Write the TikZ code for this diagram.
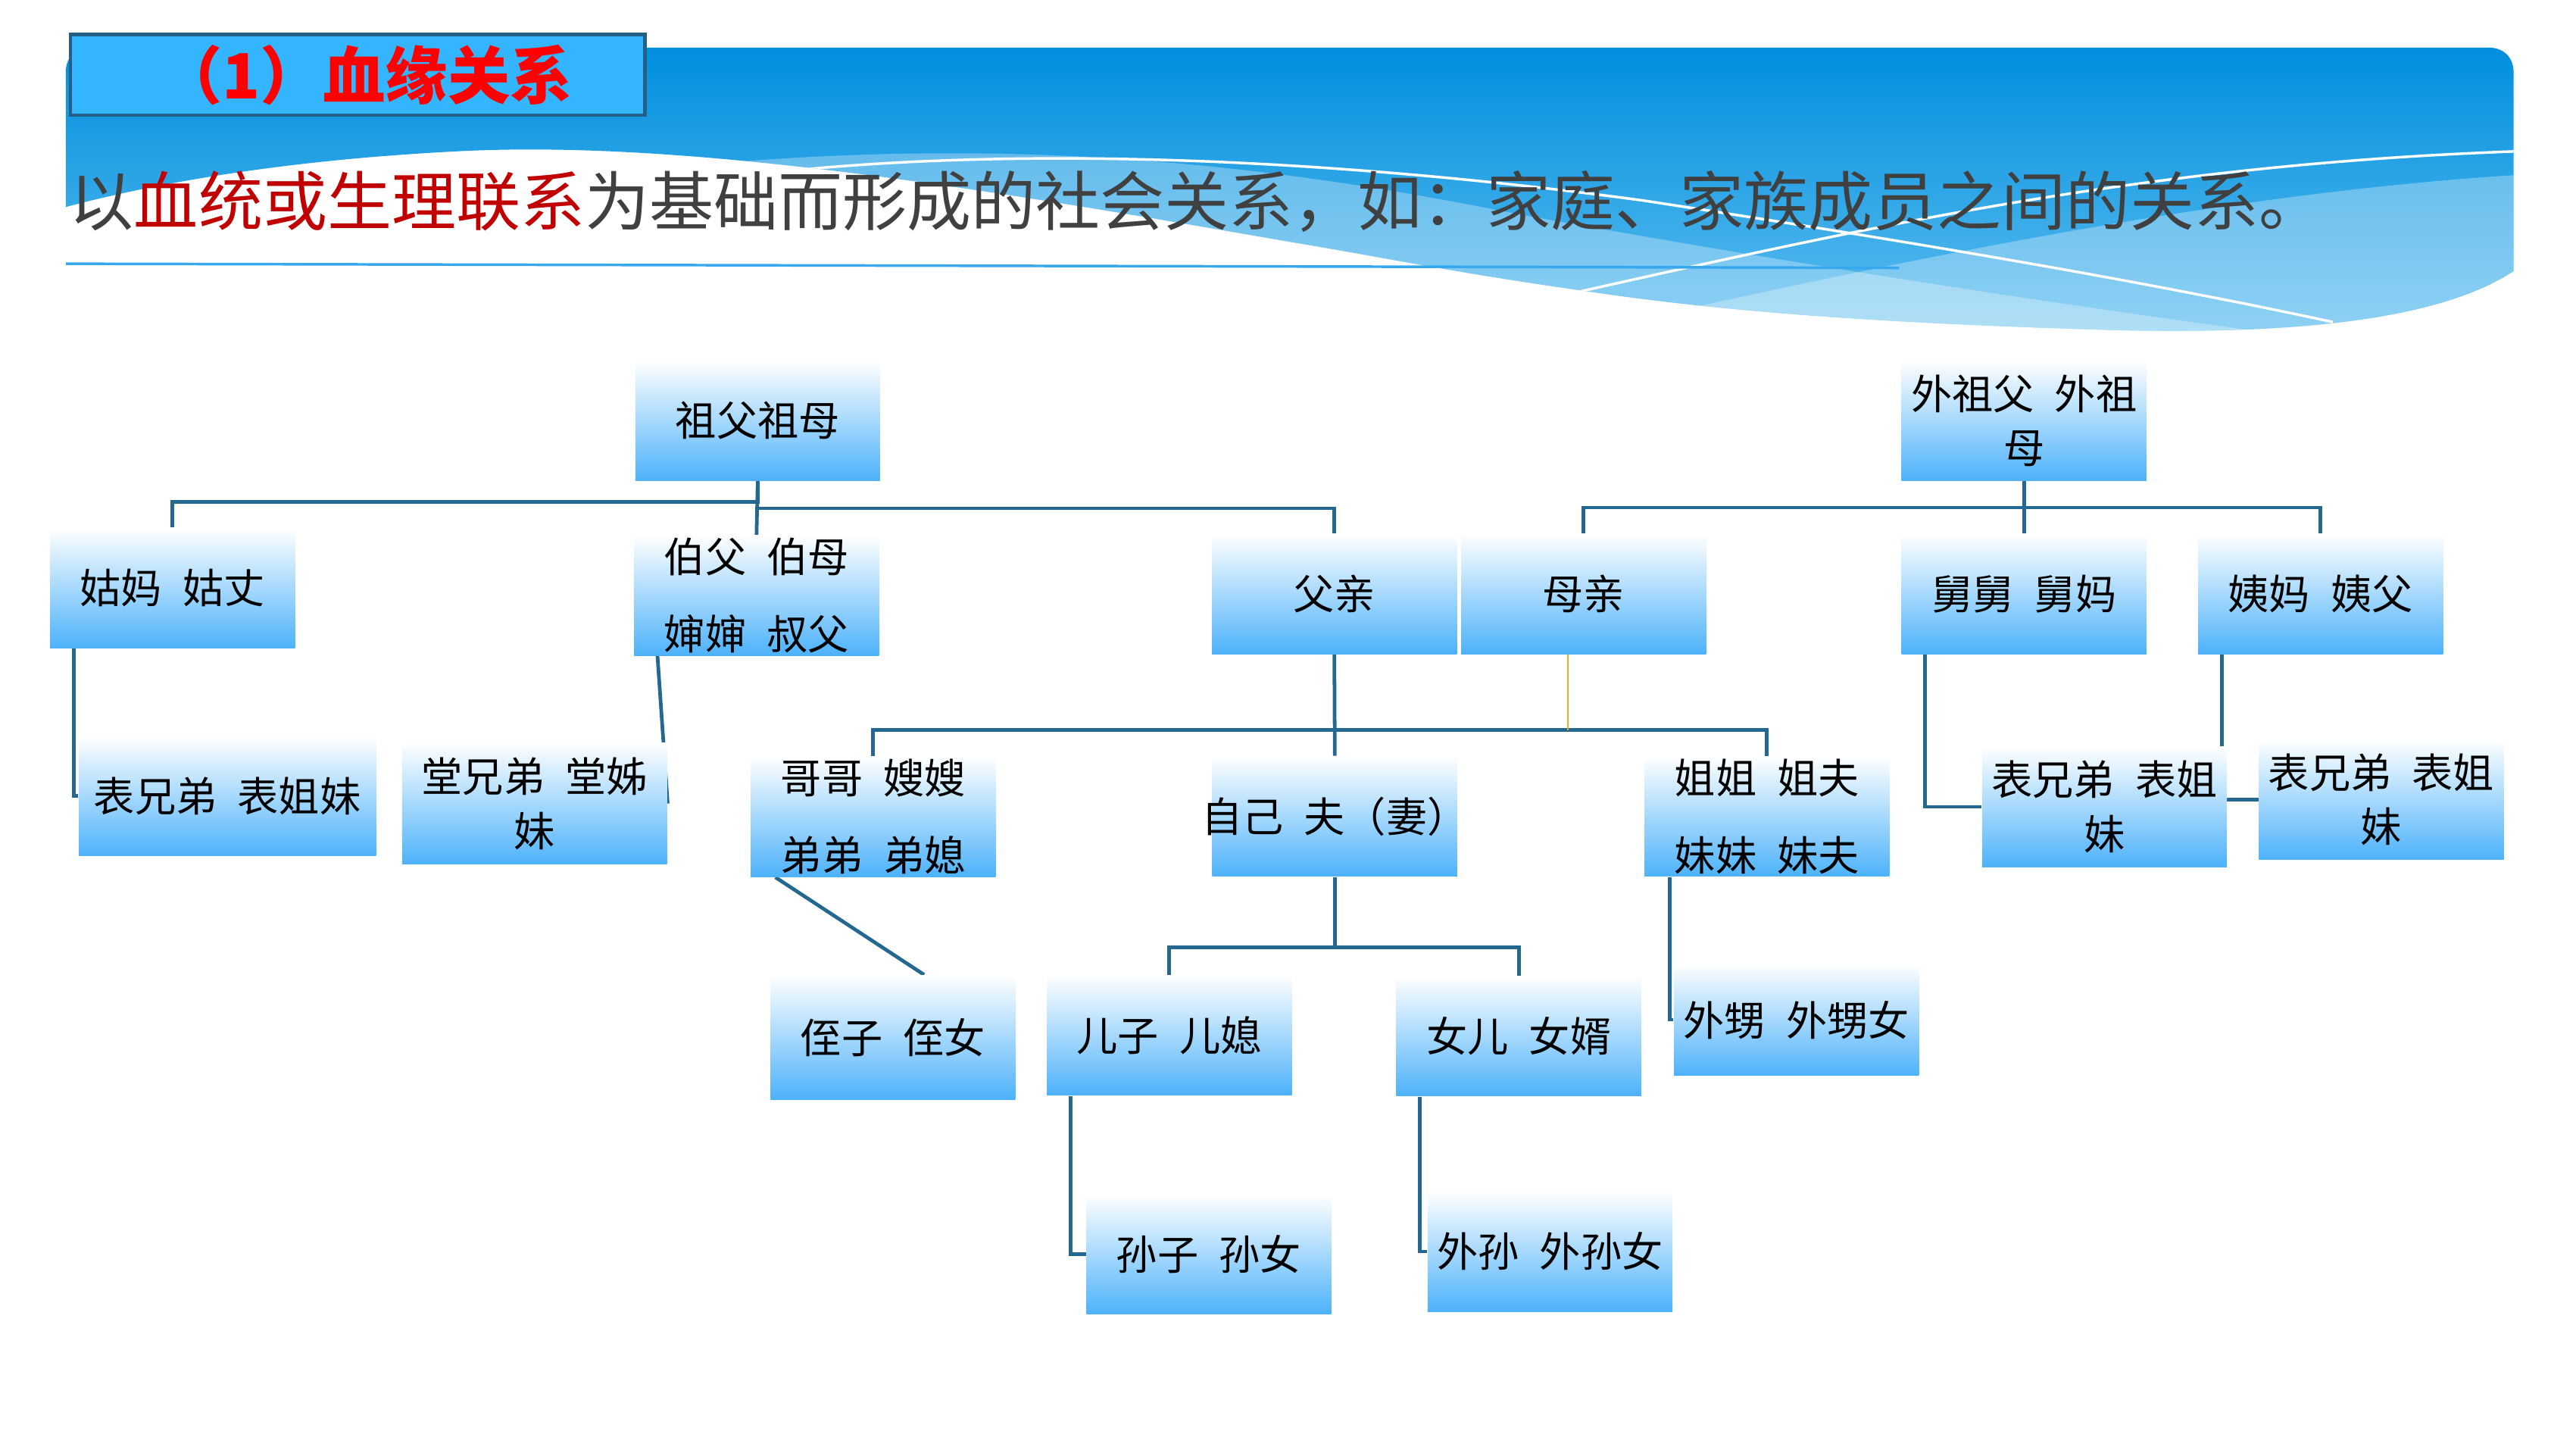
\documentclass[tikz,border=0pt]{standalone}
\usepackage{fontspec}
\setmainfont{Noto Sans CJK SC}
\usetikzlibrary{backgrounds}
\definecolor{linkblue}{RGB}{36,104,145}
\definecolor{boxblue}{RGB}{77,178,250}
\definecolor{titlered}{RGB}{255,0,0}
\definecolor{darkred}{RGB}{192,0,0}
\definecolor{textgray}{RGB}{64,64,64}
\definecolor{headblue}{RGB}{51,181,255}
\definecolor{headline}{RGB}{36,95,135}
\definecolor{bandtop}{RGB}{0,143,222}
\definecolor{bandbot}{RGB}{95,190,240}
\definecolor{ruleblue}{RGB}{55,168,238}
\definecolor{wedorange}{RGB}{245,166,35}
\newcommand{\kgap}{\hspace{0.5em}}
\tikzset{
  kin/.style={rectangle, top color=white, bottom color=boxblue, minimum width=74.5pt, minimum height=36.5pt, inner sep=0.5pt, align=center, font=\fontsize{12.5}{16.5}\selectfont},
  link/.style={draw=linkblue, line width=1.1pt},
}
\begin{document}
\begin{tikzpicture}[x=0.5pt,y=0.5pt,yscale=-1,xscale=1]
\useasboundingbox (0,0) rectangle (1568,882);

%Shape: Banner
\begin{scope}
\clip (40,126) -- (40,44) .. controls (40,35) and (46,29) .. (55,29) -- (1515,29) .. controls (1524,29) and (1530,35) .. (1530,44) -- (1530,165) .. controls (1480,198) and (1380,203) .. (1290,201) .. controls (1150,197) and (1050,190) .. (964,177) .. controls (880,165) and (850,158) .. (784,147) .. controls (600,115) and (420,85) .. (280,92) .. controls (180,97) and (100,110) .. (40,126) -- cycle;
\shade[top color=bandtop, bottom color=bandbot] (30,29) rectangle (1540,205);
\fill[white, opacity=0.3] (430,100) .. controls (600,85) and (750,95) .. (922,130) .. controls (1100,162) and (1250,185) .. (1400,205) -- (1400,260) -- (430,260) -- cycle;
\fill[white, opacity=0.3] (900,215) .. controls (1050,185) and (1300,120) .. (1540,106) -- (1540,260) -- (900,260) -- cycle;
\draw[white, line width=0.8pt] (480,104) .. controls (620,90) and (800,95) .. (1000,122) .. controls (1150,145) and (1300,170) .. (1420,196);
\draw[white, line width=0.8pt] (950,180) .. controls (1130,140) and (1300,100) .. (1535,92);
\end{scope}
%Straight Lines
\draw[ruleblue, line width=0.8pt] (40,160.5) -- (1156,163);

%Shape: Title box
\node[draw=headline, line width=1pt, fill=headblue, minimum width=174.75pt, minimum height=24.5pt, inner sep=0pt] (headbox) at (217.75,45.5) {};
\node[font=\fontsize{19}{22}\selectfont\bfseries, text=titlered, inner sep=0pt] (headtext) at ([xshift=2.6pt]headbox.center) {（1）血缘关系};

% Text Node
\node[anchor=west, inner sep=0pt, font=\fontsize{19.6}{22}\selectfont, text=textgray] (lead) at (42,122.5) {以\textcolor{darkred}{血统或生理联系}为基础而形成的社会关系，如：家庭、家族成员之间的关系。};

%Shape: Kin boxes
\node[kin] (zufu) at (461.2,256) {祖父祖母};
\node[kin] (waizufu) at (1232,256) {外祖父\kgap 外祖\\母};
\node[kin] (guma) at (105,357.8) {姑妈\kgap 姑丈};
\node[kin] (bofu) at (460.5,362.3) {伯父\kgap 伯母\\[7pt]婶婶\kgap 叔父};
\node[kin] (fuqin) at (812.2,361.4) {父亲};
\node[kin] (muqin) at (963.9,361.4) {母亲};
\node[kin] (jiujiu) at (1232,361.4) {舅舅\kgap 舅妈};
\node[kin] (yima) at (1412.5,361.4) {姨妈\kgap 姨父};
\node[kin, minimum width=90.4pt] (biaol) at (138.4,484.4) {表兄弟\kgap 表姐妹};
\node[kin, minimum width=80.6pt, minimum height=37pt] (tang) at (325.4,489) {堂兄弟\kgap 堂姊\\妹};
\node[kin] (gege) at (531.5,497) {哥哥\kgap 嫂嫂\\[7pt]弟弟\kgap 弟媳};
\node[kin] (ziji) at (812.5,496.8) {\makebox[72pt][c]{自己\kgap 夫（妻）}};
\node[kin] (jiejie) at (1075.5,496.8) {姐姐\kgap 姐夫\\[7pt]妹妹\kgap 妹夫};
\node[kin] (biaom) at (1281,491) {表兄弟\kgap 表姐\\妹};
\node[kin] (biaor) at (1449.5,486.5) {表兄弟\kgap 表姐\\妹};
\node[kin, minimum height=37.7pt] (zhizi) at (543.5,631.3) {侄子\kgap 侄女};
\node[kin] (erzi) at (711.7,630.1) {儿子\kgap 儿媳};
\node[kin] (nver) at (924.5,630.5) {女儿\kgap 女婿};
\node[kin, minimum height=34pt] (waisheng) at (1093.5,620.6) {外甥\kgap 外甥女};
\node[kin] (sunzi) at (735.8,763.3) {孙子\kgap 孙女};
\node[kin] (waisun) at (943.5,761.6) {外孙\kgap 外孙女};

%Straight Lines
\begin{scope}[on background layer]
\draw[link] (zufu.south) -- ++(0,12.5) -| (guma.north);
\draw[link] (zufu.south) -- (bofu.north);
\draw[link] (zufu.south) ++(0,16.5) -| (fuqin.north);
\draw[link] (waizufu.south) -- (jiujiu.north);
\draw[link] (muqin.north) |- ([yshift=8pt]waizufu.south) -| (yima.north);
\draw[link] ([xshift=7.4pt]guma.south west) |- (biaol.west);
\draw[link] ([xshift=7.3pt]bofu.south west) -- (tang.east);
\draw[link] (fuqin.south) -- (ziji.north);
\draw[link] (gege.north) |- ([yshift=23pt]fuqin.south) -| (jiejie.north);
\draw[wedorange, line width=0.5pt] ([xshift=-4.75pt]muqin.south) -- ++(0,46);
\draw[link] ([xshift=7.25pt]jiujiu.south west) |- (biaom.west);
\draw[link] ([xshift=7.35pt]yima.south west) |- (biaor.west);
\draw[link] ([xshift=7.7pt]gege.south west) -- ([xshift=9.5pt]zhizi.north);
\draw[link] (ziji.south) -- ++(0,43);
\draw[link] (erzi.north) |- ([yshift=21.5pt]ziji.south) -| (nver.north);
\draw[link] ([xshift=7.8pt]jiejie.south west) |- (waisheng.west);
\draw[link] ([xshift=7.5pt]erzi.south west) |- (sunzi.west);
\draw[link] ([xshift=7.25pt]nver.south west) |- (waisun.west);
\end{scope}

\end{tikzpicture}
\end{document}
